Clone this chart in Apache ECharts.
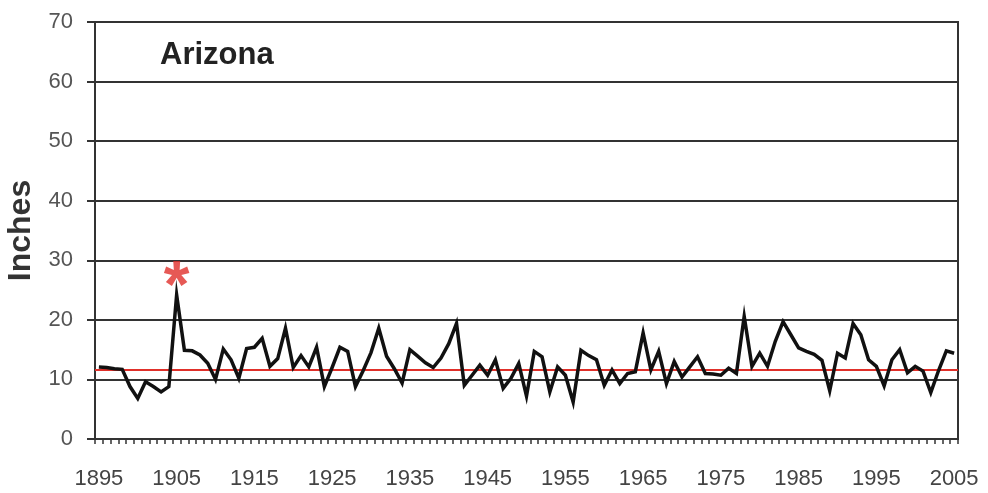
<!DOCTYPE html>
<html>
<head>
<meta charset="utf-8">
<script src="https://cdn.jsdelivr.net/npm/echarts@6/dist/echarts.min.js"></script>
<style>
html,body{margin:0;padding:0;background:#fff;}
#chart{width:988px;height:493px;}
</style>
</head>
<body>
<div id="chart"></div>
<script>
// Years 1895..2005
var years = [];
for (var y = 1895; y <= 2005; y++) years.push(String(y));

// Annual precipitation (inches)
var precip = [
  12.1, 12.0, 11.8, 11.7, 8.8, 6.8, 9.6, 8.8, 7.9, 8.8,
  24.2, 14.9, 14.8, 14.1, 12.7, 10.0, 15.1, 13.3, 10.2, 15.2,
  15.4, 16.9, 12.2, 13.5, 18.6, 12.0, 14.0, 12.1, 15.4, 8.8,
  12.0, 15.4, 14.7, 8.8, 11.5, 14.5, 18.6, 13.9, 11.8, 9.4,
  15.0, 13.9, 12.8, 12.0, 13.6, 16.0, 19.4, 9.0, 10.7, 12.4,
  10.7, 13.3, 8.5, 10.2, 12.7, 7.2, 14.7, 13.8, 7.9, 12.1,
  10.7, 6.2, 14.9, 14.0, 13.3, 9.0, 11.6, 9.3, 11.0, 11.3,
  17.8, 11.6, 14.7, 9.3, 13.0, 10.4, 12.1, 13.8, 11.0, 10.9,
  10.7, 11.9, 11.0, 20.6, 12.2, 14.4, 12.2, 16.4, 19.7, 17.5,
  15.3, 14.7, 14.2, 13.2, 8.1, 14.4, 13.6, 19.4, 17.5, 13.3,
  12.2, 8.9, 13.3, 15.0, 11.1, 12.2, 11.4, 7.8, 11.5, 14.8,
  14.4
];

var meanValue = 11.7;
var markedYear = '1905';
var markedValue = 24.2;

var yTicks = { min: 0, max: 70, interval: 10 };
var xLabelEvery = 10; // a label every 10 years: 1895, 1905, ... 2005

var FONT = 'Liberation Sans, Arial, Helvetica, sans-serif';

var chart = echarts.init(document.getElementById('chart'), null, { renderer: 'canvas' });
chart.setOption({
  animation: false,
  backgroundColor: '#ffffff',
  textStyle: { fontFamily: FONT },
  title: {
    text: 'Arizona',
    left: 155, top: 35,
    textStyle: { fontFamily: FONT, fontSize: 31, fontWeight: 'bold', color: '#222' }
  },
  grid: {
    left: 95, right: 30, top: 22, bottom: 54, show: true, borderColor: '#333', borderWidth: 2,
    backgroundColor: 'transparent', containLabel: false, outerBoundsMode: 'none'
  },
  xAxis: {
    type: 'category', data: years, boundaryGap: true,
    axisLine: { lineStyle: { color: '#333', width: 2 } },
    axisTick: { show: true, interval: 0, length: 5, lineStyle: { color: '#333', width: 1.5 } },
    axisLabel: { show: true, interval: xLabelEvery - 1, fontFamily: FONT, fontSize: 22, color: '#444',
      margin: 29, hideOverlap: false },
    splitLine: { show: false }
  },
  yAxis: {
    type: 'value', min: yTicks.min, max: yTicks.max, interval: yTicks.interval,
    name: 'Inches', nameLocation: 'middle', nameGap: 57,
    nameTextStyle: { fontFamily: FONT, fontSize: 32, fontWeight: 'bold', color: '#333' },
    axisLine: { show: true, lineStyle: { color: '#333', width: 2 } },
    axisTick: { show: true, length: 8, lineStyle: { color: '#333', width: 2 } },
    axisLabel: { fontFamily: FONT, fontSize: 22, color: '#555', margin: 22 },
    splitLine: { show: true, lineStyle: { color: '#333', width: 2 } }
  },
  series: [
    {
      type: 'line', data: precip,
      showSymbol: false, symbol: 'none',
      lineStyle: { color: '#111', width: 3.5, join: 'miter' },
      z: 5,
      markLine: {
        silent: true, symbol: ['none', 'none'], label: { show: false },
        lineStyle: { color: '#e0302a', width: 2, type: 'solid' },
        data: [{ yAxis: meanValue }],
        z: 4
      }
    },
    {
      type: 'scatter',
      data: [[markedYear, markedValue]],
      symbolSize: 1, itemStyle: { color: 'rgba(0,0,0,0)' },
      label: {
        show: true, formatter: '*', position: 'top', distance: -27,
        fontFamily: FONT, fontSize: 66, fontWeight: 'bold', color: '#e0302a'
      },
      z: 6
    }
  ]
});
</script>
</body>
</html>
